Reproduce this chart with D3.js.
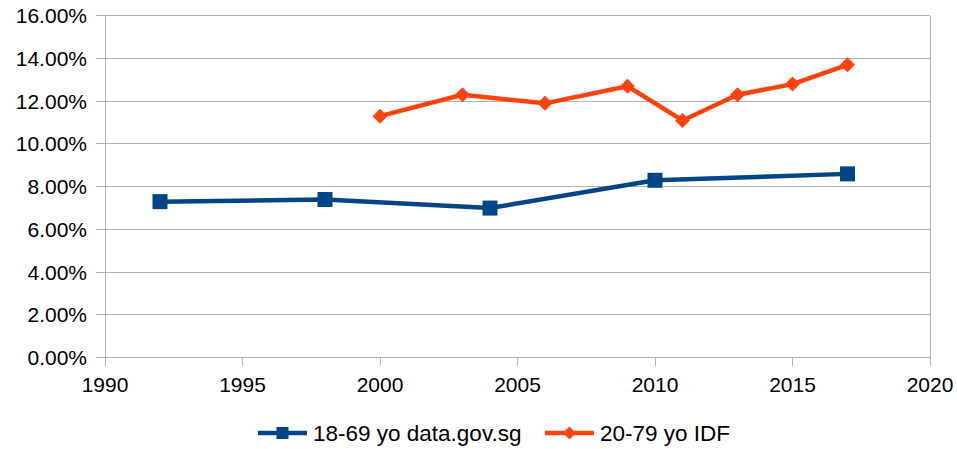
<!DOCTYPE html>
<html><head><meta charset="utf-8">
<script src="https://cdn.jsdelivr.net/npm/d3@7"></script>
<style>
html,body{margin:0;padding:0;background:#fff;}
svg{display:block;font-family:"Liberation Sans",Arial,sans-serif;}
</style></head>
<body><svg id="c" width="957" height="449"></svg>
<script>
const seriesNames = ["18-69 yo data.gov.sg", "20-79 yo IDF"];
const yearsA = [1992, 1998, 2004, 2010, 2017];
const valuesA = [7.3, 7.4, 7.0, 8.3, 8.6];
const yearsB = [2000, 2003, 2006, 2009, 2011, 2013, 2015, 2017];
const valuesB = [11.3, 12.3, 11.9, 12.7, 11.1, 12.3, 12.8, 13.7];
const xTicks = [1990, 1995, 2000, 2005, 2010, 2015, 2020];
const yTicks = [0, 2, 4, 6, 8, 10, 12, 14, 16];
const colors = ["#004586", "#ff420e"];

const svg = d3.select("#c");
const m = {l: 105, r: 27, t: 15.7, b: 91.3};
const W = 957, H = 449;
const x = d3.scaleLinear().domain([1990, 2020]).range([m.l, W - m.r]);
const y = d3.scaleLinear().domain([0, 16]).range([H - m.b, m.t]);
const grid = "#b3b3b3";
const fs = 21;

// horizontal gridlines
svg.append("g").selectAll("line").data(yTicks).join("line")
  .attr("x1", x(1990) - 9).attr("x2", x(2020))
  .attr("y1", d => y(d)).attr("y2", d => y(d))
  .attr("stroke", grid).attr("stroke-width", 1).attr("shape-rendering", "crispEdges");
// vertical borders
svg.append("g").selectAll("line").data([1990, 2020]).join("line")
  .attr("x1", d => x(d)).attr("x2", d => x(d))
  .attr("y1", y(16)).attr("y2", y(0) + 8)
  .attr("stroke", grid).attr("shape-rendering", "crispEdges");
// x ticks
svg.append("g").selectAll("line").data(xTicks).join("line")
  .attr("x1", d => x(d)).attr("x2", d => x(d))
  .attr("y1", y(0)).attr("y2", y(0) + 8)
  .attr("stroke", grid).attr("shape-rendering", "crispEdges");

// y labels
svg.append("g").selectAll("text").data(yTicks).join("text")
  .attr("x", 87).attr("y", d => y(d)).attr("dy", "0.35em")
  .attr("text-anchor", "end").attr("font-size", fs).attr("fill", "#000")
  .text(d => d3.format(".2f")(d) + "%");
// x labels
svg.append("g").selectAll("text").data(xTicks).join("text")
  .attr("x", d => x(d)).attr("y", y(0) + 34)
  .attr("text-anchor", "middle").attr("font-size", fs).attr("fill", "#000")
  .text(d => d);

const line = d3.line().x(d => x(d[0])).y(d => y(d[1]));
const dataA = yearsA.map((yr, i) => [yr, valuesA[i]]);
const dataB = yearsB.map((yr, i) => [yr, valuesB[i]]);

svg.append("path").datum(dataA).attr("d", line)
  .attr("fill", "none").attr("stroke", colors[0]).attr("stroke-width", 4.5).attr("stroke-linejoin", "round");
svg.append("g").selectAll("rect").data(dataA).join("rect")
  .attr("x", d => x(d[0]) - 7.5).attr("y", d => y(d[1]) - 7.5)
  .attr("width", 15).attr("height", 15).attr("fill", colors[0]);

svg.append("path").datum(dataB).attr("d", line)
  .attr("fill", "none").attr("stroke", colors[1]).attr("stroke-width", 4.5).attr("stroke-linejoin", "round");
const diamond = (r) => `M0,${-r}L${r},0L0,${r}L${-r},0Z`;
svg.append("g").selectAll("path").data(dataB).join("path")
  .attr("transform", d => `translate(${x(d[0])},${y(d[1])})`)
  .attr("d", diamond(7.5)).attr("fill", colors[1]);

// legend
const legY = 433;
const leg = [
  {name: seriesNames[0], color: colors[0], x0: 258, tx: 313, shape: "square"},
  {name: seriesNames[1], color: colors[1], x0: 545, tx: 600, shape: "diamond"}
];
const lg = svg.append("g").selectAll("g").data(leg).join("g");
lg.append("line").attr("x1", d => d.x0).attr("x2", d => d.x0 + 49)
  .attr("y1", legY).attr("y2", legY).attr("stroke", d => d.color).attr("stroke-width", 4.5);
lg.filter(d => d.shape === "square").append("rect")
  .attr("x", d => d.x0 + 24.5 - 6).attr("y", legY - 6).attr("width", 12).attr("height", 12)
  .attr("fill", d => d.color);
lg.filter(d => d.shape === "diamond").append("path")
  .attr("transform", d => `translate(${d.x0 + 24.5},${legY})`)
  .attr("d", diamond(6.5)).attr("fill", d => d.color);
lg.append("text").attr("x", d => d.tx).attr("y", legY).attr("dy", "0.35em")
  .attr("font-size", 22.5).attr("fill", "#000").text(d => d.name);
</script>
</body></html>
